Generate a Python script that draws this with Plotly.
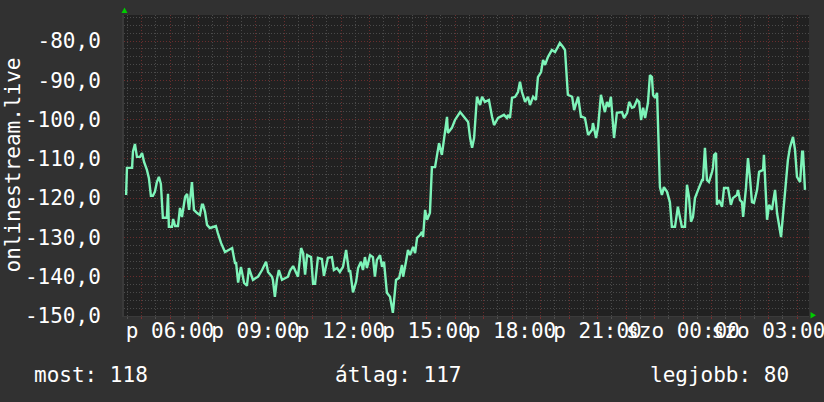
import plotly.graph_objects as go

# time in hours from Friday 00:00 (24+ = Saturday)
hours = [4.46, 4.49, 4.67, 4.70, 4.77, 4.84, 4.95, 5.02, 5.09, 5.19, 5.26, 5.33, 5.40, 5.47, 5.54, 5.61, 5.68, 5.75, 5.89, 5.93,
         5.96, 6.07, 6.11, 6.18, 6.28, 6.35, 6.42, 6.53, 6.60, 6.67, 6.77, 6.84, 6.95, 7.05, 7.12, 7.16, 7.23, 7.30, 7.40, 7.61,
         7.68, 7.79, 7.93, 8.18, 8.28, 8.32, 8.39, 8.49, 8.60, 8.70, 8.77, 8.91, 9.09, 9.23, 9.37, 9.44, 9.58, 9.61, 9.68, 9.75,
         9.82, 9.93, 10.14, 10.21, 10.32, 10.49, 10.60, 10.67, 10.74, 10.81, 10.95, 11.02, 11.09, 11.19, 11.33, 11.40, 11.54, 11.68, 11.75, 11.86,
         11.96, 12.07, 12.18, 12.28, 12.32, 12.42, 12.53, 12.60, 12.70, 12.77, 12.84, 12.91, 13.02, 13.12, 13.19, 13.26, 13.37, 13.44, 13.51, 13.61,
         13.72, 13.82, 13.93, 14.04, 14.14, 14.18, 14.28, 14.35, 14.42, 14.53, 14.60, 14.67, 14.77, 14.84, 14.88, 14.95, 15.02, 15.12, 15.19, 15.30,
         15.44, 15.54, 15.72, 15.75, 15.89, 16.00, 16.18, 16.35, 16.46, 16.53, 16.60, 16.67, 16.77, 16.88, 16.95, 17.05, 17.19, 17.30, 17.37, 17.51,
         17.61, 17.72, 17.82, 17.86, 17.93, 18.00, 18.11, 18.21, 18.28, 18.35, 18.46, 18.56, 18.63, 18.74, 18.84, 18.91, 19.02, 19.09, 19.16, 19.26,
         19.40, 19.51, 19.61, 19.68, 19.79, 19.86, 19.96, 20.11, 20.18, 20.32, 20.42, 20.46, 20.56, 20.67, 20.81, 20.84, 20.95, 21.02, 21.12, 21.19,
         21.26, 21.33, 21.40, 21.47, 21.58, 21.68, 21.86, 21.93, 22.04, 22.11, 22.21, 22.28, 22.39, 22.46, 22.53, 22.60, 22.67, 22.77, 22.84, 22.91,
         22.95, 23.02, 23.09, 23.19, 23.26, 23.33, 23.44, 23.54, 23.61, 23.72, 23.82, 23.89, 23.96, 24.07, 24.14, 24.21, 24.28, 24.35, 24.42, 24.53,
         24.67, 24.70, 24.77, 24.84, 24.91, 25.02, 25.05, 25.09, 25.16, 25.19, 25.26, 25.37, 25.44, 25.58, 25.68, 25.75, 25.89, 25.93, 26.00, 26.07,
         26.11, 26.21, 26.28, 26.35, 26.42, 26.49, 26.60, 26.67, 26.81, 26.84, 26.95, 27.02, 27.12, 27.23, 27.30, 27.44, 27.51, 27.61, 27.68, 27.75,
         27.86, 27.93, 28.00, 28.11, 28.18, 28.21, 28.28]

values = [-119.2, -112.3, -112.3, -108.2, -106.2, -109.5, -109.5, -108.5, -110.8, -112.8, -114.9, -119.4, -119.4, -118.4, -115.9, -114.6, -116.4, -125.0, -125.0, -118.9,
          -127.3, -127.3, -125.3, -127.1, -127.1, -122.5, -124.8, -119.7, -118.9, -123.0, -115.9, -123.0, -123.8, -124.3, -121.7, -121.7, -123.5, -126.8, -127.6, -127.1,
          -128.9, -131.4, -133.7, -132.7, -136.5, -136.5, -141.5, -137.5, -141.6, -142.3, -137.8, -140.8, -140.0, -138.3, -136.2, -138.8, -140.0, -140.8, -145.1, -140.8,
          -138.3, -140.8, -140.0, -138.5, -137.3, -140.0, -132.7, -134.0, -139.5, -134.5, -135.0, -141.8, -141.8, -135.2, -135.5, -139.8, -135.2, -135.0, -138.3, -137.8,
          -138.8, -137.5, -133.2, -138.8, -138.3, -144.0, -141.3, -137.8, -136.2, -138.3, -135.0, -137.8, -134.5, -135.0, -140.0, -135.7, -134.5, -137.5, -136.2, -144.1,
          -145.1, -149.2, -140.8, -140.3, -137.0, -140.0, -136.2, -133.2, -134.5, -132.4, -134.0, -130.1, -129.4, -128.6, -129.9, -123.0, -125.5, -123.8, -112.1, -112.1,
          -106.0, -109.0, -99.3, -103.4, -102.1, -100.1, -98.1, -99.6, -100.6, -104.7, -107.2, -104.7, -94.2, -96.3, -94.2, -95.5, -95.0, -99.3, -101.4, -99.6,
          -99.3, -98.8, -99.6, -98.8, -99.6, -94.5, -94.2, -93.0, -90.4, -93.0, -95.5, -94.2, -96.3, -94.2, -95.0, -89.2, -87.9, -84.8, -86.1, -84.1,
          -82.3, -82.8, -81.5, -80.5, -81.5, -82.3, -93.7, -94.2, -97.6, -94.2, -99.3, -99.3, -99.6, -103.9, -102.6, -100.9, -104.7, -101.9, -93.7, -95.8,
          -98.1, -95.5, -96.8, -94.2, -104.7, -98.3, -98.1, -99.6, -98.3, -95.5, -97.0, -96.8, -95.0, -95.5, -100.1, -97.0, -99.6, -95.8, -88.7, -89.2,
          -93.7, -94.5, -93.2, -117.2, -119.2, -117.2, -118.4, -121.0, -127.3, -127.3, -122.2, -124.8, -127.3, -127.3, -116.6, -119.7, -126.0, -124.8, -120.0, -117.9,
          -115.4, -115.4, -107.2, -115.4, -115.9, -113.3, -112.3, -109.0, -108.5, -121.7, -120.5, -122.2, -117.4, -117.4, -121.7, -120.0, -119.2, -117.9, -120.5, -121.0,
          -124.8, -117.4, -109.8, -114.9, -121.0, -121.2, -117.9, -113.3, -112.8, -109.0, -125.5, -121.7, -123.0, -117.9, -123.8, -129.9, -123.8, -114.9, -110.3, -107.2,
          -104.4, -107.7, -114.6, -115.9, -108.2, -108.2, -117.9]

x_tick_hours = list(range(5, 29))
x_label_map = {6: "p 06:00", 9: "p 09:00", 12: "p 12:00", 15: "p 15:00", 18: "p 18:00",
               21: "p 21:00", 24: "szo 00:00", 27: "szo 03:00"}
x_tick_text = [x_label_map.get(h, "") for h in x_tick_hours]

y_tick_vals = [-150, -140, -130, -120, -110, -100, -90, -80]
y_tick_text = ["-150,0", "-140,0", "-130,0", "-120,0", "-110,0", "-100,0", "-90,0", "-80,0"]

axis_title = "onlinestream.live"
legend_texts = ["most: 118", "átlag: 117", "legjobb: 80"]

W, H = 824, 402
L, R, T, B = 124, 15, 15, 86
PW, PH = W - L - R, H - T - B

def px(xp):
    return (xp - L) / PW

def py(yp):
    return (H - B - yp) / PH

FONT = "DejaVu Sans Mono"
BG = "#313131"
PLOT_BG = "#212121"
MAJOR = "#6a2d2d"
MINOR = "#4a4a4a"
LINE = "#7ef4b9"

fig = go.Figure()
fig.add_trace(go.Scatter(x=hours, y=values, mode="lines",
                         line=dict(color=LINE, width=2.4), hoverinfo="skip"))

fig.update_layout(
    width=W, height=H,
    margin=dict(l=L, r=R, t=T, b=B, pad=0, autoexpand=False),
    paper_bgcolor=BG, plot_bgcolor=PLOT_BG,
    showlegend=False,
    font=dict(family=FONT, color="#ffffff", size=20),
)

fig.update_xaxes(
    automargin=False,
    range=[6 - 46 / 28.5, 6 + 639 / 28.5],
    tickmode="array", tickvals=x_tick_hours, ticktext=x_tick_text, tickangle=0,
    ticklabeloverflow="allow", ticklabelstandoff=-6,
    showgrid=True, gridcolor=MAJOR, griddash="1px,2px", gridwidth=1,
    ticks="outside", ticklen=2, tickcolor="#7a2e2e",
    tickfont=dict(family=FONT, size=21, color="#ffffff"),
    minor=dict(tick0=0, dtick=0.5, showgrid=True, gridcolor=MINOR, griddash="1px,2px",
               ticks="outside", ticklen=2, tickcolor="#505050"),
    zeroline=False, showline=True, linecolor="#3a3a3a", linewidth=1,
)
fig.update_yaxes(
    automargin=False,
    range=[-150, -80 + 26 / 3.929],
    tickmode="array", tickvals=y_tick_vals, ticktext=y_tick_text,
    ticklabeloverflow="allow",
    showgrid=True, gridcolor=MAJOR, griddash="1px,2px", gridwidth=1,
    ticks="", ticklabelstandoff=17,
    tickfont=dict(family=FONT, size=21, color="#ffffff"),
    minor=dict(tick0=0, dtick=2, showgrid=True, gridcolor=MINOR, griddash="1px,2px"),
    zeroline=False, showline=True, linecolor="#3a3a3a", linewidth=2,
)

# y-axis title
fig.add_annotation(text=axis_title, xref="paper", yref="paper", x=px(12), y=0.5,
                   xanchor="center", yanchor="middle", textangle=-90, showarrow=False,
                   font=dict(family=FONT, size=21, color="#ffffff"))

# bottom summary line
fig.add_annotation(text=legend_texts[0], xref="paper", yref="paper", x=px(32), y=py(375),
                   xanchor="left", yanchor="middle", showarrow=False,
                   font=dict(family=FONT, size=21, color="#ffffff"))
fig.add_annotation(text=legend_texts[1], xref="paper", yref="paper", x=px(333), y=py(375),
                   xanchor="left", yanchor="middle", showarrow=False,
                   font=dict(family=FONT, size=21, color="#ffffff"))
fig.add_annotation(text=legend_texts[2], xref="paper", yref="paper", x=px(791), y=py(375),
                   xanchor="right", yanchor="middle", showarrow=False,
                   font=dict(family=FONT, size=21, color="#ffffff"))

# green axis arrows
def tri(points):
    pts = [f"{px(a):.5f},{py(b):.5f}" for a, b in points]
    return "M " + " L ".join(pts) + " Z"

fig.add_shape(type="path", xref="paper", yref="paper",
              path=tri([(121.5, 13), (127.5, 13), (124.5, 7.5)]),
              fillcolor="#00cc00", line=dict(width=0))
fig.add_shape(type="path", xref="paper", yref="paper",
              path=tri([(810.5, 312), (810.5, 318.5), (816, 315.2)]),
              fillcolor="#00cc00", line=dict(width=0))

fig.write_html("out.html",
               config={"displayModeBar": False, "staticPlot": True},
               post_script="document.body.style.margin='0';document.body.style.padding='0';"
                           "document.body.style.overflow='hidden';"
                           "document.body.style.background='" + BG + "';")
